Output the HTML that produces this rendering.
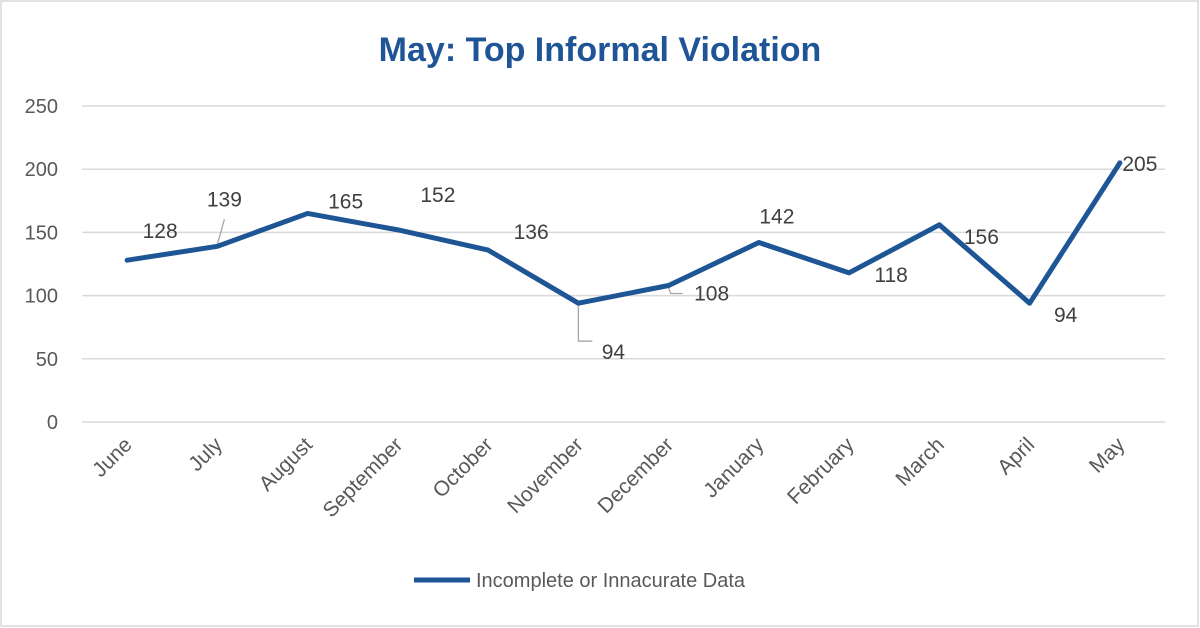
<!DOCTYPE html>
<html><head><meta charset="utf-8"><style>
body{margin:0;background:#fff}
svg{display:block;font-family:"Liberation Sans",sans-serif}
</style></head><body>
<svg width="1200" height="628" viewBox="0 0 1200 628">
<rect x="1" y="1" width="1197" height="625" fill="#fff" stroke="#d9d9d9" stroke-width="1.5"/>
<text x="600" y="61" text-anchor="middle" font-size="34" font-weight="bold" fill="#1f5597">May: Top Informal Violation</text>
<g id="grid"></g><g id="yt"></g><g id="xt"></g><g id="leaders"></g>
<polyline id="line" fill="none" stroke="#1d5595" stroke-width="5" stroke-linejoin="round" stroke-linecap="round"/>
<g id="lbl"></g>
<line x1="414" y1="580" x2="470" y2="580" stroke="#1d5595" stroke-width="5"/>
<text x="476" y="587" font-size="20" fill="#595959">Incomplete or Innacurate Data</text>
</svg>
<script>
const categories=["June","July","August","September","October","November","December","January","February","March","April","May"];
const values=[128,139,165,152,136,94,108,142,118,156,94,205];
const yTicks=[0,50,100,150,200,250];
const labelDx=[33,7,38,40,43,35,43,18,42,42,36,20];
const labelDy=[-29,-47,-12,-35,-18,49,8,-26,2,12,12,1];
const NS="http://www.w3.org/2000/svg";
const x0=82,x1=1165,yBase=422,yTop=106;
const bw=(x1-x0)/categories.length;
const xs=i=>x0+bw*(i+0.5);
const ys=v=>yBase-(v/250)*(yBase-yTop);
function mk(t,a,p){const e=document.createElementNS(NS,t);for(const k in a)e.setAttribute(k,a[k]);p.appendChild(e);return e;}
const grid=document.getElementById('grid'),yt=document.getElementById('yt'),xt=document.getElementById('xt'),lbl=document.getElementById('lbl'),ld=document.getElementById('leaders');
yTicks.forEach(t=>{
 const g=mk('line',{x1:x0,x2:x1,y1:ys(t),y2:ys(t),stroke:'#d9d9d9','stroke-width':1.5},grid);
 
 
 const tx=mk('text',{x:58,y:ys(t)+7,'text-anchor':'end','font-size':20,fill:'#595959'},yt);
 tx.textContent=t;
 
 
});
categories.forEach((c,i)=>{
 const x=xs(i)+6,y=446;
 const tx=mk('text',{x:x,y:y,'text-anchor':'end','font-size':21,fill:'#595959',transform:`rotate(-45 ${x} ${y})`},xt);
 tx.textContent=c;
 
 
});
document.getElementById('line').setAttribute('points',values.map((v,i)=>xs(i)+','+ys(v)).join(' '));
values.forEach((v,i)=>{
 const tx=mk('text',{x:xs(i)+labelDx[i],y:ys(v)+labelDy[i]+7,'text-anchor':'middle','font-size':21,fill:'#404040'},lbl);
 tx.textContent=v;
 
 
});
function leader(i,pts){
 const px=xs(i),py=ys(values[i]);
 const p=mk('polyline',{points:pts.map(d=>(px+d[0])+','+(py+d[1])).join(' '),fill:'none',stroke:'#a6a6a6','stroke-width':1.3},ld);
 
 
}
leader(1,[[0,-2],[7,-27]]);
leader(5,[[0,2],[0,38],[14,38]]);
leader(6,[[0,2],[2,8],[14,8]]);
leader(9,[[0,0],[10,8]]);
</script>
</body></html>
